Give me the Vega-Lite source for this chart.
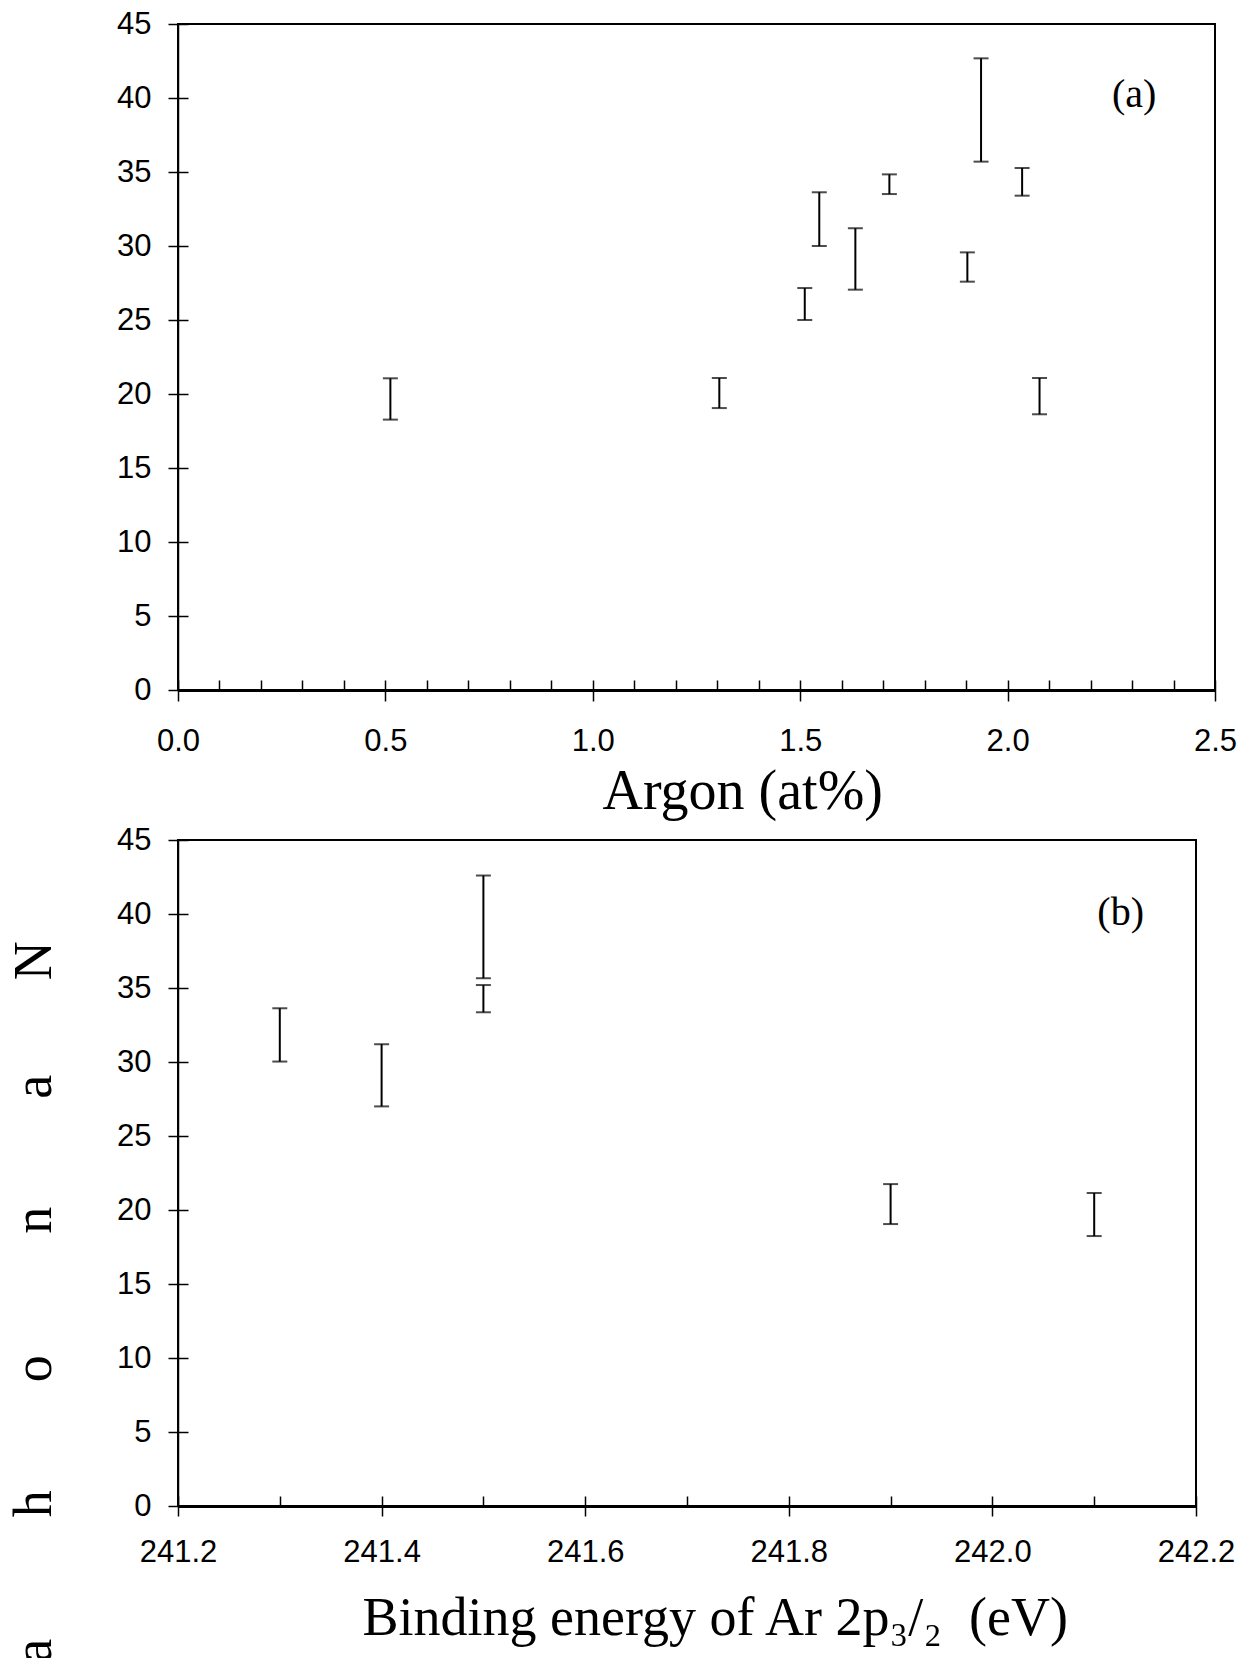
{
  "$schema": "https://vega.github.io/schema/vega-lite/v6.json",
  "padding": {"left": 5, "top": 7, "right": 5, "bottom": 0},
  "background": "white",
  "spacing": 150,
  "bounds": "flush",
  "datasets": {
    "a": [
      {"x": 0.512, "lo": 18.27, "hi": 21.06},
      {"x": 1.305, "lo": 19.05, "hi": 21.08},
      {"x": 1.511, "lo": 25.0, "hi": 27.16},
      {"x": 1.546, "lo": 30.0, "hi": 33.63},
      {"x": 1.633, "lo": 27.05, "hi": 31.2},
      {"x": 1.715, "lo": 33.51, "hi": 34.84},
      {"x": 1.903, "lo": 27.59, "hi": 29.57},
      {"x": 1.936, "lo": 35.7, "hi": 42.68},
      {"x": 2.035, "lo": 33.4, "hi": 35.27},
      {"x": 2.077, "lo": 18.63, "hi": 21.08}
    ],
    "b": [
      {"x": 241.3, "lo": 30.03, "hi": 33.63},
      {"x": 241.4, "lo": 27.0, "hi": 31.2},
      {"x": 241.5, "lo": 35.66, "hi": 42.6},
      {"x": 241.5, "lo": 33.36, "hi": 35.2},
      {"x": 241.9, "lo": 19.05, "hi": 21.75},
      {"x": 242.1, "lo": 18.24, "hi": 21.15}
    ]
  },
  "vconcat": [
    {
      "width": 1037,
      "height": 666,
      "layer": [
        {
          "data": {"name": "a"},
          "mark": {"type": "errorbar", "color": "black", "thickness": 2, "rule": {"strokeWidth": 2, "color": "black"}, "ticks": {"size": 15, "thickness": 2, "color": "black"}},
          "encoding": {
            "x": {"field": "x", "type": "quantitative", "scale": {"domain": [0, 2.5], "nice": false},
              "axis": {"values": [0, 0.5, 1, 1.5, 2, 2.5], "format": ".1f", "tickSize": 11, "labelPadding": 25, "domainWidth": 3,
                "title": "Argon (at%)", "titleFontSize": 56, "titleAlign": "left", "titleBaseline": "alphabetic", "titleX": 424, "titleY": 118}},
            "y": {"field": "lo", "type": "quantitative", "scale": {"domain": [0, 45], "nice": false},
              "axis": {"values": [0, 5, 10, 15, 20, 25, 30, 35, 40, 45], "tickSize": 10, "labelPadding": 17, "domainWidth": 1.5, "title": null}},
            "y2": {"field": "hi"}
          }
        },
        {
          "data": {"name": "a"},
          "mark": {"type": "point", "opacity": 0},
          "encoding": {
            "x": {"field": "x", "type": "quantitative", "scale": {"domain": [0, 2.5], "nice": false},
              "axis": {"orient": "bottom", "values": [0, 0.1, 0.2, 0.3, 0.4, 0.5, 0.6, 0.7, 0.8, 0.9, 1, 1.1, 1.2, 1.3, 1.4, 1.5, 1.6, 1.7, 1.8, 1.9, 2, 2.1, 2.2, 2.3, 2.4, 2.5], "tickSize": -10, "labels": false, "domain": false, "title": null}},
            "y": {"field": "lo", "type": "quantitative", "scale": {"domain": [0, 45], "nice": false},
              "axis": {"orient": "left", "values": [0, 5, 10, 15, 20, 25, 30, 35, 40, 45], "tickSize": -10, "labels": false, "domain": false, "title": null}}
          }
        },
        {
          "data": {"values": [{}]},
          "mark": {"type": "text", "font": "Liberation Serif", "fontSize": 40, "align": "center", "baseline": "middle", "color": "black"},
          "encoding": {
            "x": {"datum": 2.305, "type": "quantitative", "axis": null},
            "y": {"datum": 40.2, "type": "quantitative", "axis": null},
            "text": {"value": "(a)"}
          }
        }
      ],
      "resolve": {"axis": {"x": "independent", "y": "independent"}}
    },
    {
      "width": 1018,
      "height": 666,
      "layer": [
        {
          "data": {"name": "b"},
          "mark": {"type": "errorbar", "color": "black", "thickness": 2, "rule": {"strokeWidth": 2, "color": "black"}, "ticks": {"size": 15, "thickness": 2, "color": "black"}},
          "encoding": {
            "x": {"field": "x", "type": "quantitative", "scale": {"domain": [241.2, 242.2], "nice": false, "zero": false},
              "axis": {"values": [241.2, 241.4, 241.6, 241.8, 242.0, 242.2], "format": ".1f", "tickSize": 10, "labelPadding": 21, "domainWidth": 3,
                "title": "Binding energy of Ar 2p₃/₂\u00a0 (eV)", "titleFontSize": 54, "titleAlign": "left", "titleBaseline": "alphabetic", "titleX": 184, "titleY": 128}},
            "y": {"field": "lo", "type": "quantitative", "scale": {"domain": [0, 45], "nice": false},
              "axis": {"values": [0, 5, 10, 15, 20, 25, 30, 35, 40, 45], "tickSize": 10, "labelPadding": 17, "domainWidth": 1.5,
                "title": "a\u00a0\u00a0\u00a0\u00a0\u00a0\u00a0\u00a0\u00a0\u00a0h\u00a0\u00a0\u00a0\u00a0\u00a0\u00a0\u00a0\u00a0o\u00a0\u00a0\u00a0\u00a0\u00a0\u00a0\u00a0\u00a0\u00a0n\u00a0\u00a0\u00a0\u00a0\u00a0\u00a0\u00a0\u00a0a\u00a0\u00a0\u00a0\u00a0\u00a0\u00a0\u00a0N",
                "titleFontSize": 54, "titleAngle": -90, "titleAlign": "center", "titleBaseline": "alphabetic", "titleX": -128, "titleY": 461.5}},
            "y2": {"field": "hi"}
          }
        },
        {
          "data": {"name": "b"},
          "mark": {"type": "point", "opacity": 0},
          "encoding": {
            "x": {"field": "x", "type": "quantitative", "scale": {"domain": [241.2, 242.2], "nice": false, "zero": false},
              "axis": {"orient": "bottom", "values": [241.3, 241.5, 241.7, 241.9, 242.1, 241.2, 241.4, 241.6, 241.8, 242.0, 242.2], "tickSize": -10, "labels": false, "domain": false, "title": null}},
            "y": {"field": "lo", "type": "quantitative", "scale": {"domain": [0, 45], "nice": false},
              "axis": {"orient": "left", "values": [0, 5, 10, 15, 20, 25, 30, 35, 40, 45], "tickSize": -10, "labels": false, "domain": false, "title": null}}
          }
        },
        {
          "data": {"values": [{}]},
          "mark": {"type": "text", "font": "Liberation Serif", "fontSize": 40, "align": "center", "baseline": "middle", "color": "black"},
          "encoding": {
            "x": {"datum": 242.126, "type": "quantitative", "axis": null},
            "y": {"datum": 40.1, "type": "quantitative", "axis": null},
            "text": {"value": "(b)"}
          }
        }
      ],
      "resolve": {"axis": {"x": "independent", "y": "independent"}}
    }
  ],
  "config": {
    "view": {"stroke": "black", "strokeWidth": 2},
    "axis": {
      "grid": false,
      "labelFont": "Liberation Sans",
      "labelFontSize": 31,
      "labelFlush": false,
      "labelOverlap": false,
      "labelColor": "black",
      "tickColor": "black",
      "tickWidth": 1.5,
      "domainColor": "black",
      "titleFont": "Liberation Serif",
      "titleFontWeight": "normal",
      "titleColor": "black"
    }
  }
}
